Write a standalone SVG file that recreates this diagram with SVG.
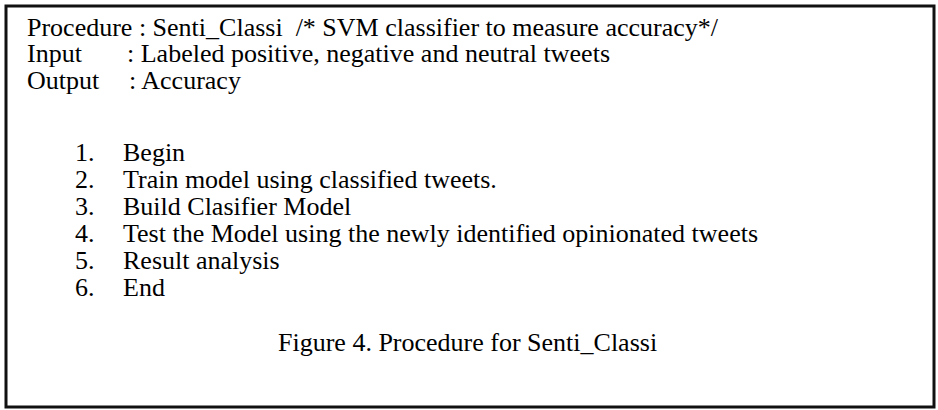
<svg xmlns="http://www.w3.org/2000/svg" width="938" height="410" viewBox="0 0 938 410">
<style>
  .t { font-family: "Liberation Serif", "Times New Roman", serif; font-size: 26px; fill: #000; white-space: pre; }
  .frame { fill: #fff; stroke: #111; stroke-width: 3; }
</style>
<rect x="0" y="0" width="938" height="410" fill="#fff"/>
<rect class="frame" x="6" y="6" width="928" height="401"/>
<g id="header">
  <text class="t" x="27" y="36" xml:space="preserve">Procedure : Senti_Classi  /* SVM classifier to measure accuracy*/</text>
  <text class="t" x="27" y="62">Input</text>
  <text class="t" x="127" y="62">: Labeled positive, negative and neutral tweets</text>
  <text class="t" x="27" y="89">Output</text>
  <text class="t" x="129" y="89">: Accuracy</text>
</g>
<g id="steps">
  <text class="t" x="75" y="161">1.</text><text class="t" x="123" y="161">Begin</text>
  <text class="t" x="75" y="188">2.</text><text class="t" x="123" y="188">Train model using classified tweets.</text>
  <text class="t" x="75" y="215">3.</text><text class="t" x="123" y="215">Build Clasifier Model</text>
  <text class="t" x="75" y="242">4.</text><text class="t" x="123" y="242">Test the Model using the newly identified opinionated tweets</text>
  <text class="t" x="75" y="269">5.</text><text class="t" x="123" y="269">Result analysis</text>
  <text class="t" x="75" y="296">6.</text><text class="t" x="123" y="296">End</text>
</g>
<g id="caption">
  <text class="t" x="278" y="351">Figure 4. Procedure for Senti_Classi</text>
</g>
</svg>
